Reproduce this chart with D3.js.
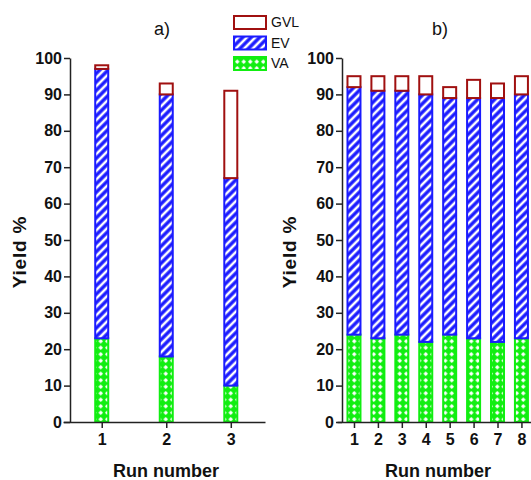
<!DOCTYPE html>
<html lang="en">
<head>
  <meta charset="UTF-8">
  <title>Yield by run</title>
  <script src="https://cdn.jsdelivr.net/npm/d3@7"></script>
  <style>
    body { margin: 0; background: #fff; }
    text { font-family: "Liberation Sans", Arial, sans-serif; fill: #111; }
  </style>
</head>
<body>
<script>
  // data
  const seriesKeys = ["VA", "EV", "GVL"];
  const runsA = [1, 2, 3];
  const vaA = [23, 18, 10];
  const evA = [74, 72, 57];      // increments on top of VA
  const gvlA = [1, 3, 24];
  const runsB = [1, 2, 3, 4, 5, 6, 7, 8];
  const vaB = [24, 23, 24, 22, 24, 23, 22, 23];
  const evB = [68, 68, 67, 68, 65, 66, 67, 67];
  const gvlB = [3, 4, 4, 5, 3, 5, 4, 5];
  const yTicks = [0, 10, 20, 30, 40, 50, 60, 70, 80, 90, 100];
  const legendLabels = ["GVL", "EV", "VA"];

  const width = 531, height = 480;
  const colors = { VA: "#11ee11", EV: "#1a1aff", GVL: "#a01010" };

  const svg = d3.select("body").append("svg")
    .attr("width", width).attr("height", height);

  // patterns
  const defs = svg.append("defs");
  const pEV = defs.append("pattern").attr("id", "pEV")
    .attr("patternUnits", "userSpaceOnUse")
    .attr("width", 6).attr("height", 6)
    .attr("patternTransform", "rotate(45)");
  pEV.append("rect").attr("width", 6).attr("height", 6).attr("fill", colors.EV);
  pEV.append("line").attr("x1", 3).attr("x2", 3).attr("y1", 0).attr("y2", 6)
    .attr("stroke", "#fff").attr("stroke-width", 2.6);

  const pVA = defs.append("pattern").attr("id", "pVA")
    .attr("patternUnits", "userSpaceOnUse")
    .attr("width", 6.5).attr("height", 6.5);
  pVA.append("rect").attr("width", 6.5).attr("height", 6.5).attr("fill", colors.VA);
  pVA.append("path").attr("d", "M3.25,0.9 L5.6,3.25 L3.25,5.6 L0.9,3.25 Z").attr("fill", "#fff");

  const fills = { VA: "url(#pVA)", EV: "url(#pEV)", GVL: "#fff" };

  const y = d3.scaleLinear().domain([0, 100]).range([422, 58]);

  function panel(runs, va, ev, gvl, xDomain, xRange, yAxisX, title, titleX, labelX, xLabelX) {
    const x = d3.scaleLinear().domain(xDomain).range(xRange);
    const rows = runs.map((r, i) => ({ run: r, VA: va[i], EV: ev[i], GVL: gvl[i] }));
    const stacked = d3.stack().keys(seriesKeys)(rows);
    const g = svg.append("g");
    const barW = 13;

    stacked.forEach(layer => {
      g.append("g").selectAll("rect")
        .data(layer)
        .join("rect")
        .attr("x", d => x(d.data.run) - barW / 2)
        .attr("width", barW)
        .attr("y", d => y(d[1]))
        .attr("height", d => y(d[0]) - y(d[1]))
        .attr("fill", fills[layer.key])
        .attr("stroke", colors[layer.key])
        .attr("stroke-width", 2);
    });

    // y axis
    const ya = g.append("g")
      .attr("transform", "translate(" + yAxisX + ",0)")
      .call(d3.axisLeft(y).tickValues(yTicks).tickSize(6).tickSizeOuter(0));
    // x axis
    const xa = g.append("g")
      .attr("transform", "translate(0," + y(0) + ")")
      .call(d3.axisBottom(x).tickValues(runs).tickSize(6).tickSizeOuter(0).tickFormat(d3.format("d")));
    [ya, xa].forEach(a => {
      a.selectAll("path, line").attr("stroke", "#222").attr("stroke-width", 1.5);
      a.selectAll("text").style("font-size", "16px").style("font-weight", "bold")
        .style("font-family", "'Liberation Sans', Arial, sans-serif").attr("fill", "#111");
    });
    ya.selectAll("text").attr("x", -8);
    xa.selectAll("text").attr("y", 12);

    g.append("text").attr("x", titleX).attr("y", 35)
      .attr("text-anchor", "middle").style("font-size", "18px").text(title);

    g.append("text")
      .attr("transform", "translate(" + labelX + ",252) rotate(-90)")
      .attr("text-anchor", "middle")
      .style("font-size", "19px").style("font-weight", "bold")
      .style("letter-spacing", "0.8px")
      .text("Yield %");

    g.append("text").attr("x", xLabelX).attr("y", 477)
      .attr("text-anchor", "middle")
      .style("font-size", "18px").style("font-weight", "bold")
      .text("Run number");
  }

  panel(runsA, vaA, evA, gvlA, [0.4, 3.53], [63, 265], 70, "a)", 162, 26, 166);
  panel(runsB, vaB, evB, gvlB, [0.29, 8.4], [337, 531], 342, "b)", 440, 296, 438);

  // legend
  const legend = svg.append("g");
  legendLabels.forEach((k, i) => {
    const ly = 16 + i * 20.5;
    legend.append("rect")
      .attr("x", 234).attr("y", ly).attr("width", 32).attr("height", 13)
      .attr("fill", fills[k]).attr("stroke", colors[k]).attr("stroke-width", 2);
    legend.append("text")
      .attr("x", 271).attr("y", ly + 11)
      .style("font-size", "14px").text(k);
  });
</script>
</body>
</html>
